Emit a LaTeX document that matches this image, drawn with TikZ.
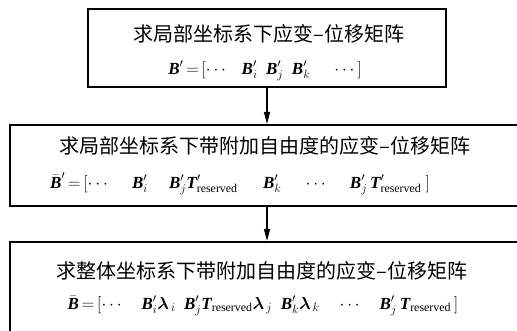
\documentclass[tikz,border=0pt]{standalone}
\usepackage{amsmath}
\usepackage{bm}
\usepackage{fontspec}
\setmainfont{Liberation Serif}
\newfontfamily\cjk{Noto Sans CJK SC}
\usetikzlibrary{arrows.meta}

% bold italic matrix symbols
\newcommand\mbB{\text{\bfseries\itshape B}}
\newcommand\mbT{\text{\bfseries\itshape T}}
\newcommand\rsv{\text{\normalfont reserved}}
\newcommand\eqs{\,{=}\,}

\tikzset{
  stepbox/.style={draw, line width=1.6pt, inner sep=0pt},
  title/.style={font=\cjk\fontsize{20}{22}\selectfont, inner sep=0pt},
  formula/.style={font=\fontsize{17}{20}\selectfont, inner sep=0pt},
  flow/.style={line width=1.3pt, -{Triangle[length=12pt,width=6pt]}}
}

\begin{document}
\begin{tikzpicture}[x=1pt,y=-1pt]
  \useasboundingbox (0,0) rectangle (517,331);
  \clip (0,0) rectangle (517,331);

  % three stacked boxes
  \node[stepbox, minimum width=358pt, minimum height=78pt] (box1) at (267,48) {};
  \node[stepbox, minimum width=520pt, minimum height=81pt, anchor=north west] (box2) at (9,124) {};
  \node[stepbox, minimum width=520pt, minimum height=100pt, anchor=north west] (box3) at (9,241) {};

  % box texts
  \node[title] (t1) at (269,34) {求局部坐标系下应变–位移矩阵};
  \node[formula] (f1) at (265,71)
    {$\mbB'\eqs[\cdots\ \ \ \mbB'_i\ \ \mbB'_j\ \ \mbB'_k\quad\ \cdots]$};

  \node[title] (t2) at (265,146) {求局部坐标系下带附加自由度的应变–位移矩阵};
  \node[formula] (f2) at (240,184)
    {$\bar{\mbB}'\eqs[\cdots\quad\ \mbB'_i\ \ \ \ \ \mbB'_j\mbT'_{\rsv}\quad\ \ \mbB'_k\quad\ \cdots\quad\ \mbB'_j\,\mbT'_{\rsv}\ ]$};

  \node[title] (t3) at (262,271) {求整体坐标系下带附加自由度的应变–位移矩阵};
  \node[formula] (f3) at (263,306)
    {$\bar{\mbB}\eqs[\cdots\quad \mbB'_i\bm{\lambda}_{\,i}\ \ \mbB'_j\mbT_{\rsv}\bm{\lambda}_{\,j}\ \ \mbB'_k\bm{\lambda}_{\,k}\quad \cdots\quad \mbB'_j\,\mbT_{\rsv}\,]$};

  % connectors
  \coordinate (a1) at (267,0);
  \draw[flow] (box1.south -| a1) -- (box2.north -| a1);
  \draw[flow] (box2.south -| a1) -- (box3.north -| a1);
\end{tikzpicture}
\end{document}
